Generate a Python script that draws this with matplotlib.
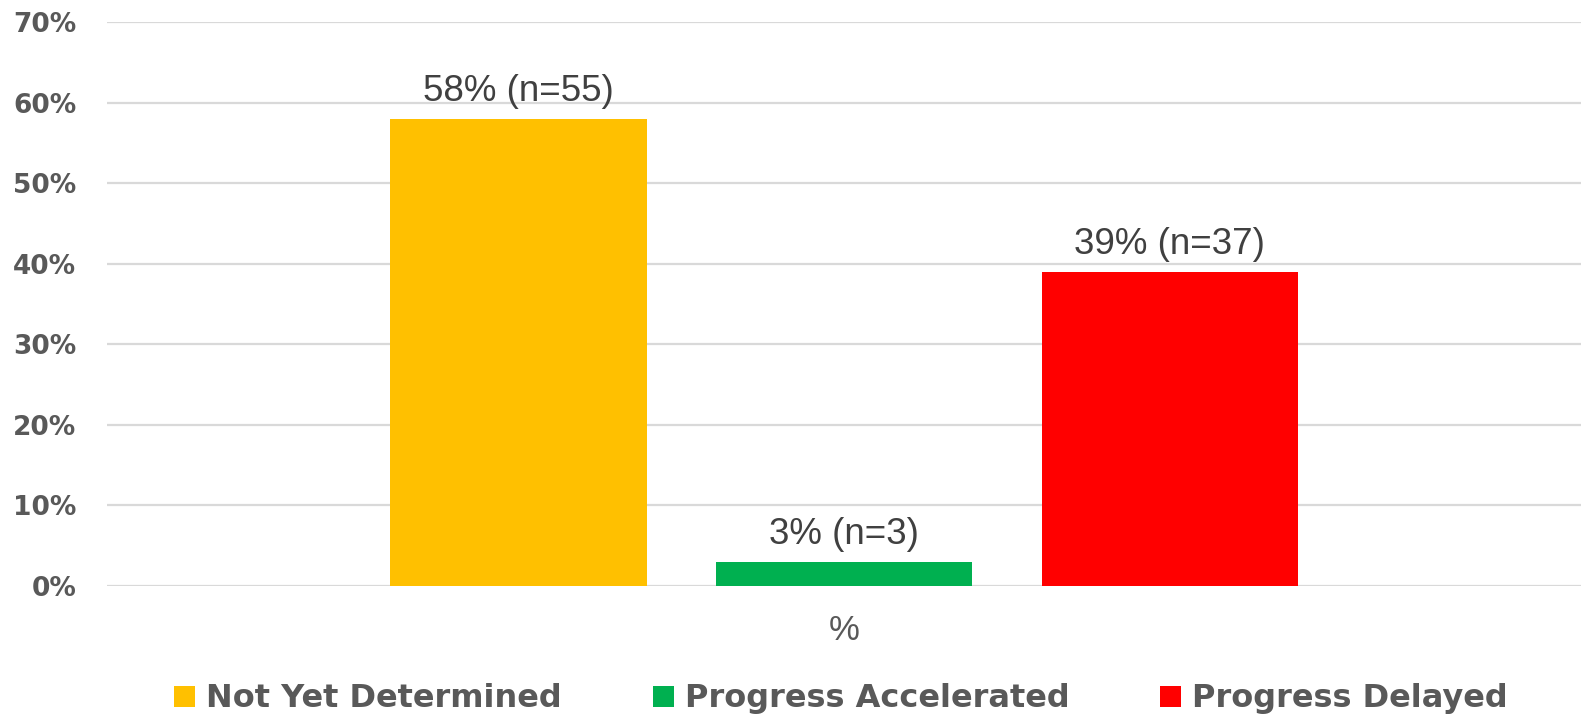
import matplotlib.pyplot as plt
from matplotlib import font_manager
from matplotlib.ticker import PercentFormatter

CATEGORY = "%"
SERIES = ["Not Yet Determined", "Progress Accelerated", "Progress Delayed"]
VALUES = [58, 3, 39]
COUNTS = [55, 3, 37]
COLORS = ["#FFC000", "#00B050", "#FF0000"]

Y_TICKS = [0, 10, 20, 30, 40, 50, 60, 70]

BAR_W = 0.174
STEP = 0.221

installed = {f.name for f in font_manager.fontManager.ttflist}
NARROW = "Liberation Sans Narrow" if "Liberation Sans Narrow" in installed else "Liberation Sans"


def main():
    fig = plt.figure(figsize=(15.81, 7.22), dpi=100)
    ax = fig.add_axes([0.0677, 0.1884, 0.9323, 0.7811])

    for i, (name, val, n, col) in enumerate(zip(SERIES, VALUES, COUNTS, COLORS)):
        x = (i - 1) * STEP
        ax.bar(x, val, width=BAR_W, color=col, label=name, zorder=3)
        ax.text(x, val + 1.2, f"{val}% (n={n})", ha="center", va="bottom",
                fontsize=26.5, color="#404040", family=NARROW)

    ax.set_xlim(-0.5, 0.5)
    ax.set_ylim(0, 70)
    ax.set_yticks(Y_TICKS)
    ax.yaxis.set_major_formatter(PercentFormatter(decimals=0))
    ax.set_xticks([0])
    ax.set_xticklabels([CATEGORY], fontsize=25, color="#595959", family=NARROW)

    for lbl in ax.get_yticklabels():
        lbl.set_fontsize(19)
        lbl.set_fontweight("bold")
        lbl.set_color("#595959")

    ax.grid(axis="y", color="#D9D9D9", linewidth=1.6, zorder=0)
    ax.tick_params(axis="both", length=0)
    ax.tick_params(axis="y", pad=22)
    ax.tick_params(axis="x", pad=20)
    for s in ax.spines.values():
        s.set_visible(False)

    leg = fig.legend(loc="center", bbox_to_anchor=(0.532, 0.032), ncol=3,
                     frameon=False, handlelength=0.65, handleheight=0.65,
                     handletextpad=0.35, columnspacing=2.85,
                     prop={"size": 23, "weight": "bold"})
    for t in leg.get_texts():
        t.set_color("#595959")

    fig.savefig("out.png", dpi=100)


if __name__ == "__main__":
    main()
